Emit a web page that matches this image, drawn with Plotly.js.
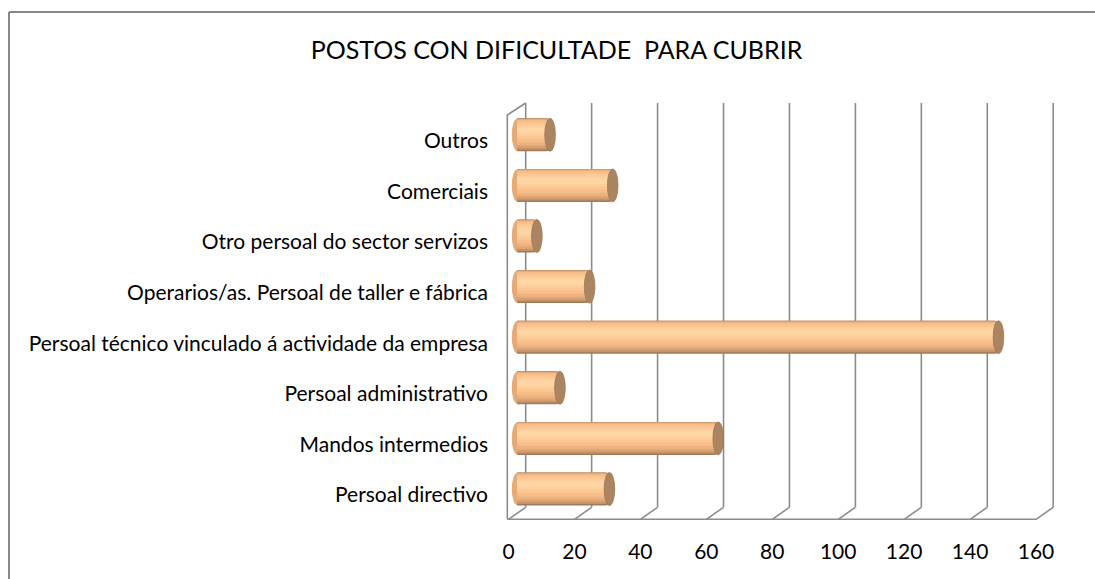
<!DOCTYPE html>
<html>
<head>
<meta charset="utf-8">
<script src="https://cdn.plot.ly/plotly-3.0.1.min.js"></script>
<style>html,body{margin:0;padding:0;background:#fff;}#chart{width:1095px;height:579px;}</style>
</head>
<body>
<div id="chart"></div>
<script>
// ---- data ----
var categories = [
  "Persoal directivo",
  "Mandos intermedios",
  "Persoal administrativo",
  "Persoal técnico vinculado á actividade da empresa",
  "Operarios/as. Persoal de taller e fábrica",
  "Otro persoal do sector servizos",
  "Comerciais",
  "Outros"
];
var values = [28, 61, 13, 146, 22, 6, 29, 10];
var tickValues = [0, 20, 40, 60, 80, 100, 120, 140, 160];
var tickLabels = ["0", "20", "40", "60", "80", "100", "120", "140", "160"];
var chartTitle = "POSTOS CON DIFICULTADE  PARA CUBRIR";

// ---- geometry (pixels) ----
var W = 1095, H = 579;
var mL = 507, mR = 41, mT = 103, mB = 60;
var plotW = W - mL - mR, plotH = H - mT - mB;
var pxPerUnit = 3.297;      // horizontal scale
var zeroPx = 517.1;         // bar zero (mid depth)
var depthDx = 8.6;          // half depth offset in x
var backFloorPx = 507.3;    // y of back floor edge
var frontFloorPx = 519.3;   // y of front floor edge
var slotPx = 50.6;          // category spacing
var firstCenterPx = 489;    // centre of first bar
var barPx = 33;             // bar thickness

var xRange = [(mL - zeroPx) / pxPerUnit, (mL + plotW - zeroPx) / pxPerUnit];
var yRange = [-(mT + plotH - firstCenterPx) / slotPx, (firstCenterPx - mT) / slotPx];
function px2paperX(p) { return (p - mL) / plotW; }
function px2paperY(p) { return (mT + plotH - p) / plotH; }

// tick labels sit on the front edge of the floor
var frontTickVals = tickValues.map(function (t) { return t - depthDx / pxPerUnit; });

// cylinder shading bands (bottom->top, in px of bar thickness)
var bands = [
  [0, 33, "#a27a57"],
  [1.5, 33, "#c3936b"],
  [3.5, 32.4, "#dca576"],
  [6, 31.8, "#edb27e"],
  [9, 31, "#f6bd89"],
  [12.5, 29, "#fbc692"],
  [15.5, 26.5, "#fdce9b"],
  [18, 24, "#ffd5a3"]
];

var traces = bands.map(function (b) {
  var wUnits = (b[1] - b[0]) / slotPx;
  var off = (b[0] - barPx / 2) / slotPx;
  return {
    type: "bar", orientation: "h",
    x: values, y: categories,
    width: wUnits, offset: off,
    marker: { color: b[2], line: { width: 0 }, cornerradius: 4 },
    hoverinfo: "x+y", showlegend: false
  };
});

var shapes = [];
var gridColor = "#8c8c8c";
// outer chart border (left and top edges are visible)
shapes.push({ type: "line", xref: "paper", yref: "paper",
  x0: px2paperX(9), x1: px2paperX(9), y0: px2paperY(600), y1: px2paperY(12),
  line: { color: "#878787", width: 2 }, layer: "below" });
shapes.push({ type: "line", xref: "paper", yref: "paper",
  x0: px2paperX(9), x1: px2paperX(1120), y0: px2paperY(12), y1: px2paperY(12),
  line: { color: "#878787", width: 2 }, layer: "below" });
// back wall gridlines and floor diagonals
tickValues.forEach(function (t) {
  shapes.push({ type: "line", xref: "x", xsizemode: "pixel", xanchor: t,
    x0: depthDx, x1: depthDx, yref: "paper",
    y0: px2paperY(backFloorPx), y1: px2paperY(mT),
    line: { color: gridColor, width: 1.6 }, layer: "below" });
  shapes.push({ type: "line", xref: "x", xsizemode: "pixel", xanchor: t,
    x0: -depthDx, x1: depthDx, yref: "paper",
    y0: px2paperY(frontFloorPx), y1: px2paperY(backFloorPx),
    line: { color: gridColor, width: 1.6 }, layer: "below" });
});
// front floor edge
shapes.push({ type: "line", xref: "paper", yref: "paper",
  x0: px2paperX(mL + 0.3), x1: px2paperX(zeroPx - depthDx + pxPerUnit * tickValues[tickValues.length - 1]),
  y0: px2paperY(frontFloorPx), y1: px2paperY(frontFloorPx),
  line: { color: gridColor, width: 1.6 }, layer: "below" });
// left wall
shapes.push({ type: "path", xref: "paper", yref: "paper",
  path: "M" + px2paperX(mL + 0.3) + "," + px2paperY(frontFloorPx) +
        " L" + px2paperX(mL + 0.3) + "," + px2paperY(mT + 12) +
        " L" + px2paperX(zeroPx + depthDx) + "," + px2paperY(mT),
  line: { color: gridColor, width: 1.6 }, layer: "below" });

var rxUnits = 5.3 / pxPerUnit;
var halfBar = (barPx / 2) / slotPx;
values.forEach(function (v, i) {
  // rounded start of cylinder
  shapes.push({ type: "circle", xref: "x", yref: "y",
    x0: -rxUnits, x1: rxUnits, y0: i - halfBar + 0.01, y1: i + halfBar - 0.01,
    fillcolor: "#e6aa78", line: { width: 0 }, layer: "below" });
  // end cap
  shapes.push({ type: "circle", xref: "x", yref: "y",
    x0: v - rxUnits, x1: v + rxUnits, y0: i - halfBar, y1: i + halfBar,
    fillcolor: "#ab8561", line: { color: "#9c7753", width: 0.8 }, layer: "above" });
});

var font = { family: "Lato, 'Open Sans', sans-serif", size: 21, color: "#000000" };

var layout = {
  width: W, height: H, autosize: false,
  margin: { l: mL, r: mR, t: mT, b: mB, pad: 0 },
  paper_bgcolor: "#ffffff", plot_bgcolor: "rgba(0,0,0,0)",
  barmode: "overlay",
  font: font,
  title: { text: chartTitle, font: { family: font.family, size: 25, color: "#000000" },
    x: 556.5 / W, xref: "container", xanchor: "center",
    y: 1 - 50 / H, yref: "container", yanchor: "middle" },
  xaxis: { range: xRange, showgrid: false, zeroline: false, showline: false,
    tickmode: "array", tickvals: frontTickVals, ticktext: tickLabels, ticks: "",
    ticklabelstandoff: 18, tickfont: font, fixedrange: true },
  yaxis: { type: "category", categoryorder: "array", categoryarray: categories,
    range: yRange, showgrid: false, zeroline: false, showline: false, ticks: "",
    ticklabelshift: 6, ticklabelstandoff: 18, tickfont: font, fixedrange: true },
  shapes: shapes,
  showlegend: false
};

Plotly.newPlot("chart", traces, layout, { displayModeBar: false, staticPlot: true });
</script>
</body>
</html>
